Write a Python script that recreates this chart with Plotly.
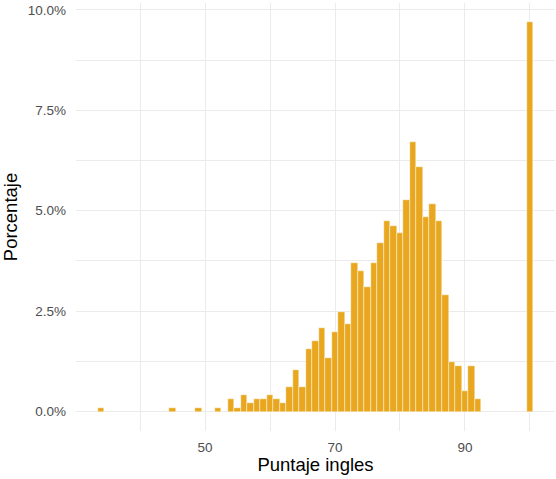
import plotly.graph_objects as go

scores = [34, 45, 49, 52, 54, 55, 56, 57, 58, 59, 60, 61, 62, 63, 64, 65, 66, 67, 68,
          69, 70, 71, 72, 73, 74, 75, 76, 77, 78, 79, 80, 81, 82, 83, 84, 85, 86, 87,
          88, 89, 90, 91, 92, 100]
porcentaje = [0.10, 0.10, 0.10, 0.10, 0.31, 0.10, 0.41, 0.21, 0.31, 0.31, 0.41, 0.31,
              0.21, 0.62, 1.03, 0.62, 1.55, 1.76, 2.07, 1.34, 1.97, 2.48, 2.17, 3.69,
              3.50, 3.10, 3.69, 4.20, 4.75, 4.62, 4.44, 5.26, 6.70, 6.09, 4.84, 5.16,
              4.75, 2.90, 1.24, 1.14, 0.52, 1.14, 0.31, 9.69]

x_ticks = [50, 70, 90]
x_minor = [40, 60, 80, 100]
y_ticks = [0, 2.5, 5, 7.5, 10]
y_labels = ['0.0%', '2.5%', '5.0%', '7.5%', '10.0%']
y_minor = [1.25, 3.75, 6.25, 8.75]

grid = '#EBEBEB'

fig = go.Figure(go.Bar(
    x=scores, y=porcentaje, width=1,
    marker=dict(color='#E8A71E', line=dict(color='white', width=0.45)),
))

fig.update_layout(
    width=556, height=479,
    margin=dict(l=76, r=1, t=3, b=48, autoexpand=False),
    paper_bgcolor='white', plot_bgcolor='white',
    font=dict(family='Liberation Sans, Arial, sans-serif'),
    showlegend=False, bargap=0,
    xaxis=dict(
        range=[30.15, 103.85], tickvals=x_ticks, ticks='', zeroline=False,
        automargin=False, ticklabelstandoff=6,
        showgrid=True, gridcolor=grid, gridwidth=1.4,
        minor=dict(tickvals=x_minor, showgrid=True, gridcolor=grid, gridwidth=0.7),
        tickfont=dict(size=13.5, color='#4D4D4D'),
        title=dict(text='Puntaje ingles', font=dict(size=18.5, color='black'), standoff=3),
    ),
    yaxis=dict(
        range=[-0.485, 10.17], tickvals=y_ticks, ticktext=y_labels, ticks='',
        zeroline=False, automargin=False, ticklabelstandoff=9,
        showgrid=True, gridcolor=grid, gridwidth=1.4,
        minor=dict(tickvals=y_minor, showgrid=True, gridcolor=grid, gridwidth=0.7),
        tickfont=dict(size=13.5, color='#4D4D4D'),
        title=dict(text='Porcentaje', font=dict(size=18.5, color='black'), standoff=6),
    ),
)

# quitar el margen por defecto del body para que la figura llene la ventana
fig.write_html('out.html', config={'displayModeBar': False},
               post_script="document.body.style.margin='0';")
